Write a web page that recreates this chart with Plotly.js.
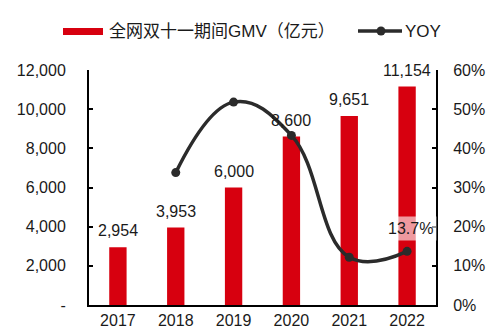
<!DOCTYPE html>
<html><head><meta charset="utf-8">
<script src="https://cdn.plot.ly/plotly-3.0.1.min.js"></script>
<style>html,body{margin:0;padding:0;background:#fff;}#c{width:500px;height:336px;}</style>
</head><body><div id="c"></div>
<script>
const years = ['2017','2018','2019','2020','2021','2022'];
const gmv = [2954, 3953, 6000, 8600, 9651, 11154];
const yoyYears = ['2018','2019','2020','2021','2022'];
const yoy = [0.338, 0.518, 0.433, 0.122, 0.137];
const leftTicks = [0, 2000, 4000, 6000, 8000, 10000, 12000];
const leftTickText = ['-', '2,000', '4,000', '6,000', '8,000', '10,000', '12,000'];
const yoyLabelIndex = 4;

const RED = '#D7000F', DARK = '#2b2b2b';
const FONT = '"Liberation Sans", Arial, "Noto Sans CJK SC", sans-serif';
const M = {l: 89, r: 64, t: 70, b: 31};
const W = 500, H = 336;
const pw = W - M.l - M.r, ph = H - M.t - M.b;
const px = x => (x - M.l) / pw;
const py = y => (H - M.b - y) / ph;

const fmt = v => v.toLocaleString('en-US');

const traces = [
  {type: 'bar', x: years, y: gmv, marker: {color: RED}, width: 0.3,
   name: '全网双十一期间GMV（亿元）', showlegend: false, hoverinfo: 'skip'},
  {type: 'scatter', mode: 'lines+markers', x: yoyYears, y: yoy, yaxis: 'y2',
   line: {color: DARK, width: 3.5, shape: 'spline', smoothing: 1.2},
   marker: {color: DARK, size: 9}, name: 'YOY', showlegend: false, hoverinfo: 'skip'}
];

const annotations = years.map((yr, i) => ({
  x: i, y: gmv[i], xref: 'x', yref: 'y', text: fmt(gmv[i]), showarrow: false,
  yanchor: 'bottom', yshift: 6, font: {family: FONT, size: 16, color: '#1a1a1a'}
}));
annotations.push({
  x: years.indexOf(yoyYears[yoyLabelIndex]), y: yoy[yoyLabelIndex], xref: 'x', yref: 'y2',
  text: (yoy[yoyLabelIndex] * 100).toFixed(1) + '%', showarrow: false,
  yanchor: 'bottom', yshift: 10, xshift: 3, bgcolor: 'rgba(255,255,255,0.6)',
  borderpad: 3, font: {family: FONT, size: 16, color: '#1a1a1a'}
});
// manual legend text
annotations.push({xref: 'paper', yref: 'paper', x: px(107), y: py(31), xanchor: 'left', yanchor: 'middle',
  text: '全网双十一期间GMV（亿元）', showarrow: false, font: {family: FONT, size: 17, color: '#1a1a1a'}});
annotations.push({xref: 'paper', yref: 'paper', x: px(403), y: py(31), xanchor: 'left', yanchor: 'middle',
  text: 'YOY', showarrow: false, font: {family: FONT, size: 17, color: '#1a1a1a'}});

const shapes = [
  {type: 'rect', xref: 'paper', yref: 'paper', x0: px(63), x1: px(103), y0: py(28), y1: py(35),
   fillcolor: RED, line: {width: 0}},
  {type: 'line', xref: 'paper', yref: 'paper', x0: px(358), x1: px(402), y0: py(31), y1: py(31),
   line: {color: DARK, width: 3.5}},
  {type: 'circle', xref: 'paper', yref: 'paper', x0: px(376.5), x1: px(385.5), y0: py(26.5), y1: py(35.5),
   fillcolor: DARK, line: {width: 0}}
];

const layout = {
  width: W, height: H, margin: M, paper_bgcolor: '#fff', plot_bgcolor: '#fff',
  font: {family: FONT, size: 16, color: '#1a1a1a'},
  showlegend: false, bargap: 0.7,
  xaxis: {type: 'category', range: [-0.5, 5.5], showline: true, linecolor: '#000', linewidth: 2,
    ticks: '', showgrid: false, zeroline: false, automargin: false,
    tickfont: {family: FONT, size: 16, color: '#1a1a1a'}},
  yaxis: {range: [0, 12000], tickvals: leftTicks, ticktext: leftTickText, showline: true,
    linecolor: '#000', linewidth: 2, ticks: 'inside', ticklen: 4, tickwidth: 2, tickcolor: '#000',
    showgrid: false, zeroline: false, automargin: false, ticklabelstandoff: 18,
    tickfont: {family: FONT, size: 16, color: '#1a1a1a'}},
  yaxis2: {range: [0, 0.6], tickvals: [0, 0.1, 0.2, 0.3, 0.4, 0.5, 0.6], tickformat: '.0%',
    overlaying: 'y', side: 'right', showline: true, linecolor: '#000', linewidth: 2,
    ticks: 'inside', ticklen: 4, tickwidth: 2, tickcolor: '#000', showgrid: false, zeroline: false,
    automargin: false, ticklabelstandoff: 12, tickfont: {family: FONT, size: 16, color: '#1a1a1a'}},
  annotations: annotations, shapes: shapes
};

Plotly.newPlot('c', traces, layout, {displayModeBar: false, staticPlot: true});
</script></body></html>
